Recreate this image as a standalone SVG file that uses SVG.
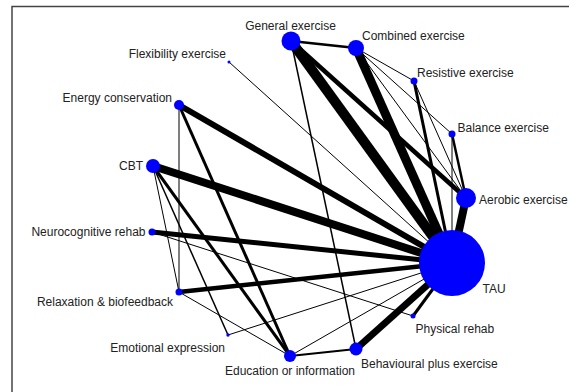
<svg xmlns="http://www.w3.org/2000/svg" width="569" height="392" viewBox="0 0 569 392">
<style>
.e{stroke:#000;fill:none;stroke-linecap:butt}
.n{fill:#0000FF}
text{font-family:"Liberation Sans",Arial,sans-serif;font-size:12px;fill:#222}
.m{text-anchor:middle}
.r{text-anchor:end}
</style>
<rect width="569" height="392" fill="#fff"/>
<path d="M12,392 V6.5 H569" fill="none" stroke="#444" stroke-width="1.5"/>
<g id="connectors">
<line class="e" x1="291" y1="41" x2="452" y2="263" stroke-width="10"/>
<line class="e" x1="356" y1="48" x2="452" y2="263" stroke-width="9"/>
<line class="e" x1="466" y1="198" x2="452" y2="263" stroke-width="8"/>
<line class="e" x1="153" y1="166" x2="452" y2="263" stroke-width="8"/>
<line class="e" x1="179" y1="105" x2="452" y2="263" stroke-width="6"/>
<line class="e" x1="152" y1="232" x2="452" y2="263" stroke-width="5"/>
<line class="e" x1="179" y1="292" x2="452" y2="263" stroke-width="4.5"/>
<line class="e" x1="356" y1="349" x2="452" y2="263" stroke-width="7"/>
<line class="e" x1="413" y1="316" x2="452" y2="263" stroke-width="3"/>
<line class="e" x1="414" y1="81" x2="452" y2="263" stroke-width="3"/>
<line class="e" x1="229" y1="62" x2="452" y2="263" stroke-width="1"/>
<line class="e" x1="228" y1="335" x2="452" y2="263" stroke-width="1"/>
<line class="e" x1="290" y1="356" x2="452" y2="263" stroke-width="1"/>
<line class="e" x1="452" y1="134" x2="452" y2="263" stroke-width="1"/>
<line class="e" x1="291" y1="41" x2="356" y2="48" stroke-width="2.5"/>
<line class="e" x1="291" y1="41" x2="466" y2="198" stroke-width="4.5"/>
<line class="e" x1="291" y1="41" x2="356" y2="349" stroke-width="1.5"/>
<line class="e" x1="356" y1="48" x2="414" y2="81" stroke-width="1"/>
<line class="e" x1="356" y1="48" x2="452" y2="134" stroke-width="1"/>
<line class="e" x1="356" y1="48" x2="466" y2="198" stroke-width="1"/>
<line class="e" x1="414" y1="81" x2="466" y2="198" stroke-width="1"/>
<line class="e" x1="452" y1="134" x2="466" y2="198" stroke-width="2.5"/>
<line class="e" x1="179" y1="105" x2="179" y2="292" stroke-width="1"/>
<line class="e" x1="179" y1="105" x2="290" y2="356" stroke-width="3"/>
<line class="e" x1="153" y1="166" x2="179" y2="292" stroke-width="1"/>
<line class="e" x1="153" y1="166" x2="228" y2="335" stroke-width="1.5"/>
<line class="e" x1="153" y1="166" x2="290" y2="356" stroke-width="3"/>
<line class="e" x1="152" y1="232" x2="413" y2="316" stroke-width="1"/>
<line class="e" x1="179" y1="292" x2="290" y2="356" stroke-width="1"/>
<line class="e" x1="290" y1="356" x2="356" y2="349" stroke-width="2"/>
</g>
<g id="general"><circle class="n" cx="291" cy="41" r="9.5"/><text class="m" x="290.5" y="30">General exercise</text></g>
<g id="combined"><circle class="n" cx="356" cy="48" r="8"/><text x="362" y="40">Combined exercise</text></g>
<g id="flexibility"><circle class="n" cx="229" cy="62" r="1.5"/><text class="r" x="226" y="58">Flexibility exercise</text></g>
<g id="resistive"><circle class="n" cx="414" cy="81" r="3.5"/><text x="417" y="77">Resistive exercise</text></g>
<g id="energy"><circle class="n" cx="179" cy="105" r="5"/><text class="r" x="172" y="102">Energy conservation</text></g>
<g id="balance"><circle class="n" cx="452" cy="134" r="3.5"/><text x="457.5" y="132">Balance exercise</text></g>
<g id="cbt"><circle class="n" cx="153" cy="166" r="7"/><text class="r" x="143" y="170">CBT</text></g>
<g id="aerobic"><circle class="n" cx="466" cy="198" r="10"/><text x="479" y="203.5">Aerobic exercise</text></g>
<g id="neuro"><circle class="n" cx="152" cy="232" r="3.5"/><text class="r" x="145.5" y="236">Neurocognitive rehab</text></g>
<g id="tau"><circle class="n" cx="452" cy="263" r="33"/><text x="482.5" y="293">TAU</text></g>
<g id="relaxation"><circle class="n" cx="179" cy="292" r="3.5"/><text class="r" x="173" y="306">Relaxation &amp; biofeedback</text></g>
<g id="physical"><circle class="n" cx="413" cy="316" r="2.5"/><text x="415.5" y="332.5">Physical rehab</text></g>
<g id="emotional"><circle class="n" cx="228" cy="335" r="1.7"/><text class="r" x="225" y="352">Emotional expression</text></g>
<g id="education"><circle class="n" cx="290" cy="356" r="6"/><text class="m" x="290" y="375">Education or information</text></g>
<g id="behavioural"><circle class="n" cx="356" cy="349" r="6.5"/><text x="361" y="368">Behavioural plus exercise</text></g>
</svg>
